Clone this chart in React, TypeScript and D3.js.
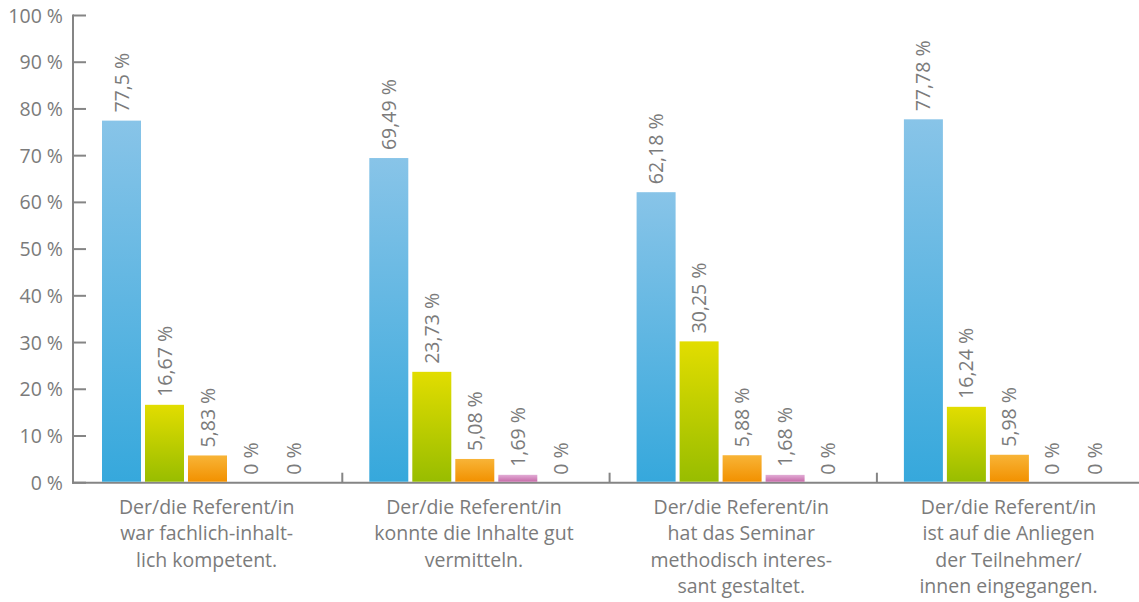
import React from "react";
import * as d3 from "d3";

const categories = [
  ["Der/die Referent/in", "war fachlich-inhalt-", "lich kompetent."],
  ["Der/die Referent/in", "konnte die Inhalte gut", "vermitteln."],
  ["Der/die Referent/in", "hat das Seminar", "methodisch interes-", "sant gestaltet."],
  ["Der/die Referent/in", "ist auf die Anliegen", "der Teilnehmer/", "innen eingegangen."],
];
const seriesKeys = ["s1", "s2", "s3", "s4", "s5"];
const seriesValues = [
  [77.5, 16.67, 5.83, 0, 0],
  [69.49, 23.73, 5.08, 1.69, 0],
  [62.18, 30.25, 5.88, 1.68, 0],
  [77.78, 16.24, 5.98, 0, 0],
];
const valueLabels = [
  ["77,5 %", "16,67 %", "5,83 %", "0 %", "0 %"],
  ["69,49 %", "23,73 %", "5,08 %", "1,69 %", "0 %"],
  ["62,18 %", "30,25 %", "5,88 %", "1,68 %", "0 %"],
  ["77,78 %", "16,24 %", "5,98 %", "0 %", "0 %"],
];
const yTicks = [0, 10, 20, 30, 40, 50, 60, 70, 80, 90, 100];

const gradients = [
  ["#88c4e8", "#36a8dc"],
  ["#e2dd00", "#98bd00"],
  ["#f8b437", "#f29100"],
  ["#e2acd6", "#c66aa8"],
  ["#cccccc", "#999999"],
];

export default function App() {
  const W = 1139, H = 602;
  const axisX = 73;
  const y = d3.scaleLinear().domain([0, 100]).range([482.7, 15.5]);
  const x0 = d3.scaleBand<number>().domain(d3.range(categories.length)).range([75, 75 + 4 * 267.3]).paddingInner(0).paddingOuter(0);
  const x1 = d3.scaleBand<string>().domain(seriesKeys).range([27, 27 + 5 * 43 - 4]).paddingInner(4 / 43).paddingOuter(0);
  const grey = "#7b7b7b";
  const axisCol = "#858585";
  const font = "'Open Sans', Roboto, 'DejaVu Sans', sans-serif";

  return (
    <svg width={W} height={H} style={{ position: "absolute", left: 0, top: 0 }} fontFamily={font}>
      <defs>
        {gradients.map((g, i) => (
          <linearGradient key={i} id={`g${i}`} x1="0" y1="0" x2="0" y2="1">
            <stop offset="0%" stopColor={g[0]} />
            <stop offset="100%" stopColor={g[1]} />
          </linearGradient>
        ))}
      </defs>
      {/* y axis */}
      <line x1={axisX} x2={axisX} y1={y(100) - 1} y2={y(0) + 1} stroke={axisCol} strokeWidth={2} />
      {yTicks.map((t) => (
        <g key={t}>
          <line x1={axisX} x2={86} y1={y(t)} y2={y(t)} stroke={axisCol} strokeWidth={2} />
          <text x={63} y={y(t)} dy="0.36em" textAnchor="end" fontSize={19.5} fill={grey}>
            {`${t} %`}
          </text>
        </g>
      ))}
      {/* baseline */}
      <line x1={axisX - 1} x2={W} y1={y(0)} y2={y(0)} stroke={axisCol} strokeWidth={2} />
      {/* separators */}
      {d3.range(1, categories.length).map((i) => (
        <line key={i} x1={x0(i)!} x2={x0(i)!} y1={y(0) - 10} y2={y(0)} stroke={axisCol} strokeWidth={2} />
      ))}
      {/* bars */}
      {categories.map((cat, ci) => (
        <g key={ci} transform={`translate(${x0(ci)},0)`}>
          {seriesKeys.map((k, si) => {
            const v = seriesValues[ci][si];
            const bx = x1(k)!;
            const bw = x1.bandwidth();
            const top = y(v);
            const cx = bx + bw / 2;
            return (
              <g key={k}>
                {v > 0 && (
                  <rect x={bx} y={top} width={bw} height={y(0) - top - 1} fill={`url(#g${si})`} />
                )}
                <text
                  transform={`translate(${cx},${top - 8}) rotate(-90)`}
                  dy="0.36em"
                  textAnchor="start"
                  fontSize={19.5}
                  fill={grey}
                >
                  {valueLabels[ci][si]}
                </text>
              </g>
            );
          })}
          {cat.map((line, li) => (
            <text key={li} x={x0.bandwidth() / 2 - 2} y={507 + li * 26.3} dy="0.36em" textAnchor="middle" fontSize={19.5} fill={grey}>
              {line}
            </text>
          ))}
        </g>
      ))}
    </svg>
  );
}
